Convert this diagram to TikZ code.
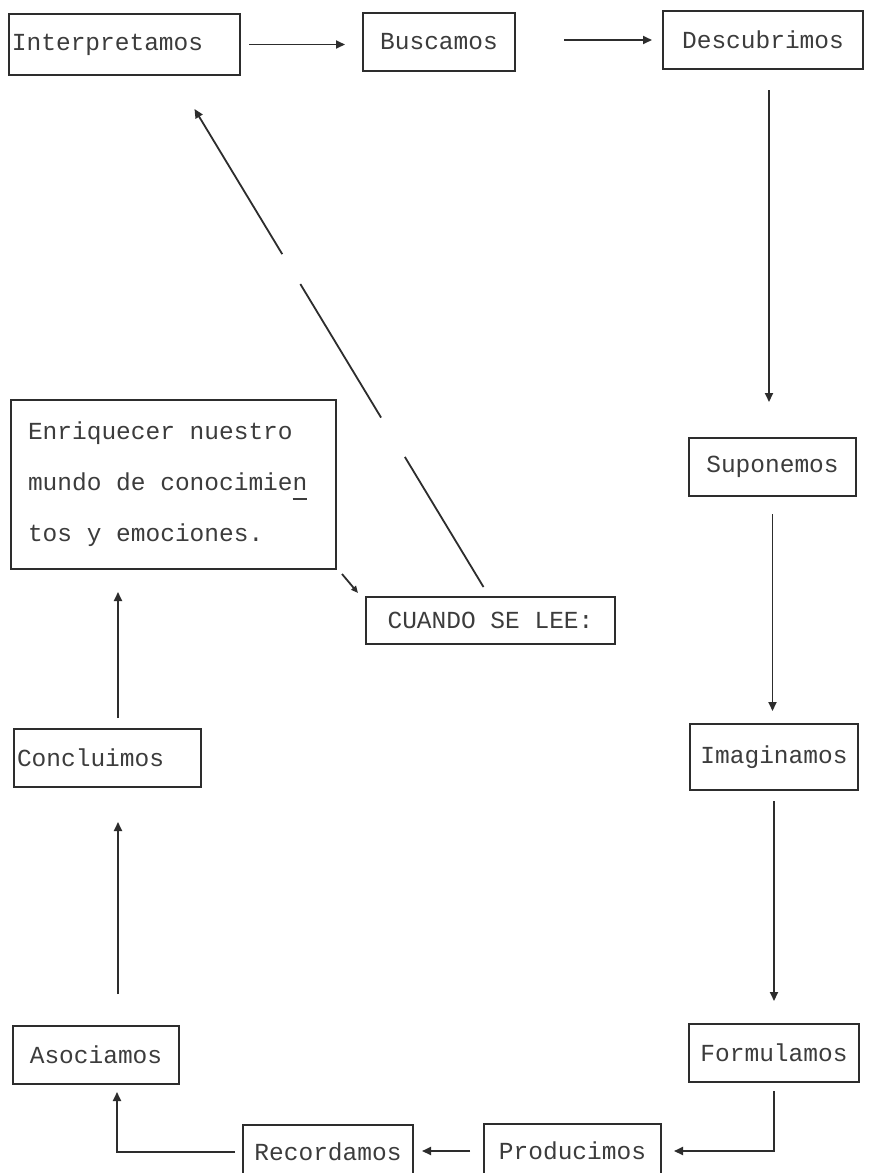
\documentclass[tikz,border=0pt]{standalone}
\usepackage{fontspec}
\setmonofont{Liberation Mono}
\usetikzlibrary{arrows.meta}
\definecolor{ink}{RGB}{45,45,45}
\definecolor{txt}{RGB}{60,60,60}
\begin{document}
\begin{tikzpicture}[x=1pt,y=-1pt,
  box/.style={draw=ink, line width=2pt, text=txt, inner sep=0pt, anchor=north west,
    font=\ttfamily\fontsize{24.5}{30}\selectfont},
  arr/.style={draw=ink, line width=1.8pt, -{Triangle[length=9pt,width=8pt]}}]
\useasboundingbox (0,0) rectangle (872,1173);
\clip (0,0) rectangle (872,1173);
\fill[white] (0,0) rectangle (872,1173);

\node[box, minimum height=61, text width=225, align=flush left, inner xsep=3pt] (interp) at (8,13) {Interpretamos};
\node[box, minimum width=152, minimum height=58] (busc) at (362,12) {Buscamos};
\node[box, minimum width=200, minimum height=58] (desc) at (662,10) {Descubrimos};
\node[box, minimum width=167, minimum height=58] (supon) at (688,437) {Suponemos};
\node[box, minimum width=168, minimum height=66] (imag) at (689,723) {Imaginamos};
\node[box, minimum width=170, minimum height=58] (formul) at (688,1023) {Formulamos};
\node[box, minimum width=177, minimum height=54] (produc) at (483,1123) {Producimos};
\node[box, minimum width=170, minimum height=54] (recor) at (242,1124) {Recordamos};
\node[box, minimum width=166, minimum height=58] (asoc) at (12,1025) {Asociamos};
\node[box, minimum height=58, text width=181, align=flush left, inner xsep=3pt] (concl) at (13,728) {Concluimos};
\node[box, minimum height=169, text width=291, align=flush left, inner xsep=17pt,
  font=\ttfamily\fontsize{24.5}{51}\selectfont] (enriq) at (10,399)
  {Enriquecer nuestro\\ mundo de conocimie\rlap{n}\rule[-9pt]{14pt}{1.6pt}\\ tos y emociones.};
\node[box, minimum width=249, minimum height=47] (cuando) at (365,596) {CUANDO SE LEE:};

\draw[arr, shorten <=8pt, shorten >=17pt] (interp.east) -- (interp.east -| busc.west);
\draw[arr, shorten <=48pt, shorten >=10pt] ([yshift=2]busc.east) -- ([yshift=2]busc.east -| desc.west);
\draw[arr, shorten <=20pt, shorten >=35pt] ([xshift=6]desc.south) -- ([xshift=6]desc.south |- supon.north);
\draw[arr, shorten <=17pt, shorten >=12pt] (supon.south) -- (supon.south |- imag.north);
\draw[arr, shorten <=10pt, shorten >=22pt] (imag.south) -- (imag.south |- formul.north);
\draw[arr, shorten <=8pt, shorten >=12pt] (formul.south) |- (produc.east);
\draw[arr, shorten <=13pt, shorten >=8pt] (produc.west) -- (produc.west -| recor.east);
\draw[arr, shorten <=7pt, shorten >=7pt] (recor.west) -| ([xshift=21]asoc.south);
\draw[arr, shorten <=31pt, shorten >=34pt] ([xshift=22]asoc.north) -- ([xshift=22]asoc.north |- concl.south);
\draw[arr, shorten <=10pt, shorten >=22pt] ([xshift=10.5]concl.north) -- ([xshift=10.5]concl.north |- enriq.south);
\draw[arr, -{Triangle[length=7pt,width=6pt]}] ([shift={(5,4)}]enriq.south east) -- ([shift={(-7,-3)}]cuando.north west);
\draw[arr, dash pattern=on 152pt off 46pt on 156pt off 35pt on 400pt]
  ([shift={(-7,-9)}]cuando.north) -- ([shift={(70,33)}]interp.south);
\end{tikzpicture}
\end{document}
